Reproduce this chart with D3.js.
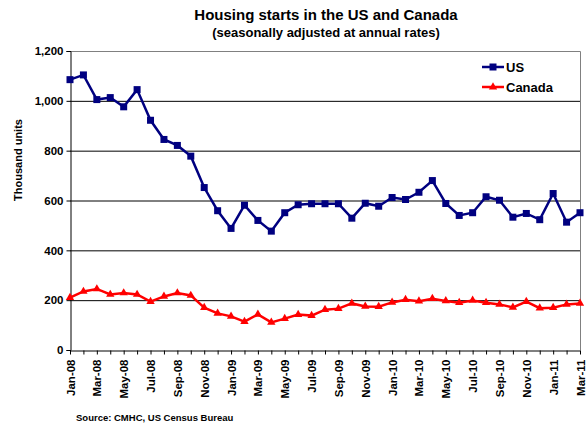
<!DOCTYPE html>
<html>
<head>
<meta charset="utf-8">
<script src="https://cdnjs.cloudflare.com/ajax/libs/d3/7.8.5/d3.min.js"></script>
<style>
  body { margin: 0; background: #fff; }
  text { font-family: "Liberation Sans", Arial, sans-serif; font-weight: bold; fill: #000; }
</style>
</head>
<body>
<script>
// monthly, Jan-08 .. Mar-11
var months = ["Jan","Feb","Mar","Apr","May","Jun","Jul","Aug","Sep","Oct","Nov","Dec"];
var labels = [];
for (var y = 8; y <= 11; y++) {
  for (var m = 0; m < 12; m++) {
    if (y == 11 && m > 2) break;
    labels.push(months[m] + "-" + (y < 10 ? "0" + y : y));
  }
}

var usStarts = [1085,1104,1005,1013,976,1045,922,845,821,778,
  652,559,488,581,520,477,551,583,587,587,587,529,589,577,
  612,604,633,680,588,540,551,615,601,533,548,523,628,513,551];
var canadaStarts = [210,235,245,223,229,223,194,215,229,219,
  170,147,135,114,143,111,126,142,138,162,166,187,175,174,
  191,202,196,206,197,190,199,190,183,171,194,168,170,183,187];

var yTicks = [0,200,400,600,800,1000,1200];

var width = 587, height = 425;
var plotLeft = 70, plotRight = 580, plotTop = 51, plotBottom = 350;

var svg = d3.select("body").append("svg")
    .attr("width", width)
    .attr("height", height)

var x = d3.scalePoint().domain(labels).range([plotLeft, plotRight]);
var yScale = d3.scaleLinear().domain([0, 1200]).range([plotBottom, plotTop]);

// gridlines
svg.append("g").selectAll("line")
    .data(yTicks.filter(function(d){ return d > 0 && d < 1200 }))
    .enter().append("line")
    .attr("x1", plotLeft).attr("x2", plotRight)
    .attr("y1", function(d){ return yScale(d) + 0.5 })
    .attr("y2", function(d){ return yScale(d) + 0.5 })
    .attr("stroke", "#000").attr("stroke-width", 1)

// plot border (top/right grey)
svg.append("path")
    .attr("d", "M" + plotLeft + "," + (plotTop + 0.5) + "H" + (plotRight + 0.5) + "V" + plotBottom)
    .attr("fill", "none").attr("stroke", "#808080").attr("stroke-width", 1)

// y axis
var yAxis = d3.axisLeft(yScale).tickValues(yTicks).tickSize(4).tickFormat(d3.format(","));
var gy = svg.append("g").attr("transform", "translate(" + (plotLeft + 0.5) + ",0)").call(yAxis);
gy.select(".domain").attr("stroke", "#000");
gy.selectAll(".tick line").attr("stroke", "#000");
gy.selectAll(".tick text").attr("font-size", 11.5).attr("x", -7);

// x axis
var xAxis = d3.axisBottom(x).tickSize(4).tickSizeOuter(0)
    .tickFormat(function(d, i){ return i % 2 == 0 ? d : "" });
var gx = svg.append("g").attr("transform", "translate(0," + (plotBottom + 0.5) + ")").call(xAxis);
gx.select(".domain").attr("stroke", "#000");
gx.selectAll(".tick line").attr("stroke", "#000");
gx.selectAll(".tick text")
    .attr("font-size", 11.5)
    .attr("transform", "rotate(-90)")
    .attr("text-anchor", "end")
    .attr("x", -9).attr("y", 0).attr("dy", "0.35em");

// lines
var line = function(vals){
  return d3.line()
    .x(function(d, i){ return x(labels[i]) })
    .y(function(d){ return yScale(d) })(vals);
}

svg.append("path").attr("d", line(usStarts))
    .attr("fill", "none").attr("stroke", "#000080").attr("stroke-width", 2.5)
svg.append("g").selectAll("rect")
    .data(usStarts).enter().append("rect")
    .attr("x", function(d, i){ return x(labels[i]) - 3.5 })
    .attr("y", function(d){ return yScale(d) - 3.5 })
    .attr("width", 7).attr("height", 7)
    .attr("fill", "#000080")

svg.append("path").attr("d", line(canadaStarts))
    .attr("fill", "none").attr("stroke", "#ff0000").attr("stroke-width", 2.5)
var tri = d3.symbol().type(d3.symbolTriangle).size(30);
svg.append("g").selectAll("path")
    .data(canadaStarts).enter().append("path")
    .attr("d", tri)
    .attr("transform", function(d, i){ return "translate(" + x(labels[i]) + "," + yScale(d) + ")" })
    .attr("fill", "#ff0000")

// legend
var legend = [{name: "US", color: "#000080", sym: "sq"}, {name: "Canada", color: "#ff0000", sym: "tri"}];
legend.forEach(function(l, i){
  var ly = 67 + i * 20;
  var g = svg.append("g");
  g.append("line").attr("x1", 482).attr("x2", 504).attr("y1", ly).attr("y2", ly)
    .attr("stroke", l.color).attr("stroke-width", 2.5);
  if (l.sym == "sq") {
    g.append("rect").attr("x", 489.5).attr("y", ly - 3.5).attr("width", 7).attr("height", 7).attr("fill", l.color);
  } else {
    g.append("path").attr("d", tri).attr("transform", "translate(493," + ly + ")").attr("fill", l.color);
  }
  g.append("text").attr("x", 506).attr("y", ly).attr("dy", "0.35em")
    .attr("font-size", 13).text(l.name);
});

// titles
svg.append("text").attr("x", 326).attr("y", 20).attr("text-anchor", "middle")
    .attr("font-size", 15).text("Housing starts in the US and Canada");
svg.append("text").attr("x", 326).attr("y", 37).attr("text-anchor", "middle")
    .attr("font-size", 13).text("(seasonally adjusted at annual rates)");

svg.append("text").attr("transform", "translate(22,160) rotate(-90)")
    .attr("text-anchor", "middle").attr("font-size", 11).text("Thousand units");

svg.append("text").attr("x", 76).attr("y", 421)
    .attr("font-size", 9.5).text("Source: CMHC, US Census Bureau");
</script>
</body>
</html>
